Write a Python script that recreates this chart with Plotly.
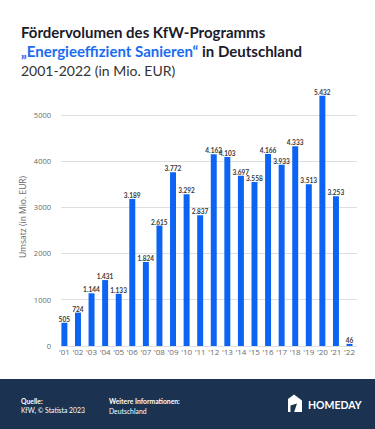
import plotly.graph_objects as go

years = ["'01", "'02", "'03", "'04", "'05", "'06", "'07", "'08", "'09", "'10", "'11",
         "'12", "'13", "'14", "'15", "'16", "'17", "'18", "'19", "'20", "'21", "'22"]
volumes = [505, 724, 1144, 1431, 1133, 3189, 1824, 2615, 3772, 3292, 2837,
           4162, 4103, 3697, 3558, 4166, 3933, 4333, 3513, 5432, 3253, 46]
y_ticks = [0, 1000, 2000, 3000, 4000, 5000]

W, H = 375, 429
ML, MR, MT, MB = 61, 18, 88, 83
PW, PH = W - ML - MR, H - MT - MB


def px(x):
    return (x - ML) / PW


def py(y):
    return (H - MB - y) / PH


BLUE = "#0d64f2"
NAVY = "#1c3251"
FONT = "Lato"

fig = go.Figure(go.Bar(
    x=years, y=volumes,
    marker=dict(color=BLUE, line=dict(width=0)),
    texttemplate="<b>%{y:,.0f}</b>", textposition="outside", constraintext="none",
    textfont=dict(family="Lato", size=6.5, color="#3a3a3a"),
    cliponaxis=False, hoverinfo="skip",
))

fig.update_layout(
    width=W, height=H,
    margin=dict(l=ML, r=MR, t=MT, b=MB, autoexpand=False),
    paper_bgcolor="white", plot_bgcolor="white",
    separators=",.",
    bargap=0.56,
    showlegend=False,
    font=dict(family=FONT),
    xaxis=dict(
        type="category", range=[-0.25, 21.55], automargin=False,
        showgrid=False, showline=False, zeroline=False, ticks="",
        tickfont=dict(family="Open Sans", size=8, color="#6a6a6a"),
        fixedrange=True,
    ),
    yaxis=dict(
        range=[0, 5600], tickvals=y_ticks, ticktext=[str(v) for v in y_ticks],
        automargin=False,
        showgrid=True, gridcolor="#dedede", gridwidth=1,
        zeroline=True, zerolinecolor="#dedede", zerolinewidth=1,
        showline=False, ticks="", ticklabelstandoff=9,
        tickfont=dict(family="Open Sans", size=7.5, color="#6a6a6a"),
        title=dict(text="Umsatz (in Mio. EUR)", standoff=5,
                   font=dict(family="Open Sans", size=8.5, color="#6a6a6a")),
        fixedrange=True,
    ),
)

shapes = [
    dict(type="rect", xref="paper", yref="paper",
         x0=px(0), x1=px(W), y0=py(H), y1=py(379),
         fillcolor=NAVY, line=dict(width=0), layer="below"),
    # house logo
    dict(type="path", xref="paper", yref="paper",
         path=("M {} {} L {} {} L {} {} L {} {} L {} {} Z".format(
             px(288), py(399), px(294), py(394.5), px(302), py(400.5),
             px(302), py(412), px(288), py(412))),
         fillcolor="white", line=dict(width=0)),
    dict(type="path", xref="paper", yref="paper",
         path=("M {} {} L {} {} L {} {} L {} {} Z".format(
             px(290.5), py(412.5), px(290.5), py(405.5), px(297), py(403.5),
             px(294), py(412.5))),
         fillcolor=NAVY, line=dict(width=0)),
]

annotations = [
    dict(text="<b>Fördervolumen des KfW-Programms</b>", x=px(19), y=py(32),
         font=dict(family=FONT, size=15, color="#1b1b2b")),
    dict(text="<b><span style='color:#1a6cf0'>„Energieeffizient Sanieren“</span> in Deutschland</b>",
         x=px(19), y=py(51), font=dict(family=FONT, size=15, color="#1b1b2b")),
    dict(text="2001-2022 (in Mio. EUR)", x=px(19), y=py(70),
         font=dict(family=FONT, size=14, color="#333333")),
    dict(text="<b>Quelle:</b>", x=px(19), y=py(400.5),
         font=dict(family=FONT, size=6.8, color="white")),
    dict(text="KfW, © Statista 2023", x=px(19), y=py(410.5),
         font=dict(family=FONT, size=6.8, color="white")),
    dict(text="<b>Weitere Informationen:</b>", x=px(107), y=py(400.5),
         font=dict(family=FONT, size=6.8, color="white")),
    dict(text="Deutschland", x=px(107), y=py(410.5),
         font=dict(family=FONT, size=6.8, color="white")),
    dict(text="<b>HOMEDAY</b>", x=px(306), y=py(405),
         font=dict(family=FONT, size=10.5, color="white")),
]
for a in annotations:
    a.update(xref="paper", yref="paper", xanchor="left", yanchor="middle", showarrow=False)

fig.update_layout(shapes=shapes, annotations=annotations)
fig.write_html(
    "out.html",
    config={"displayModeBar": False},
    post_script="document.body.style.margin='0';document.body.style.overflow='hidden';",
)
